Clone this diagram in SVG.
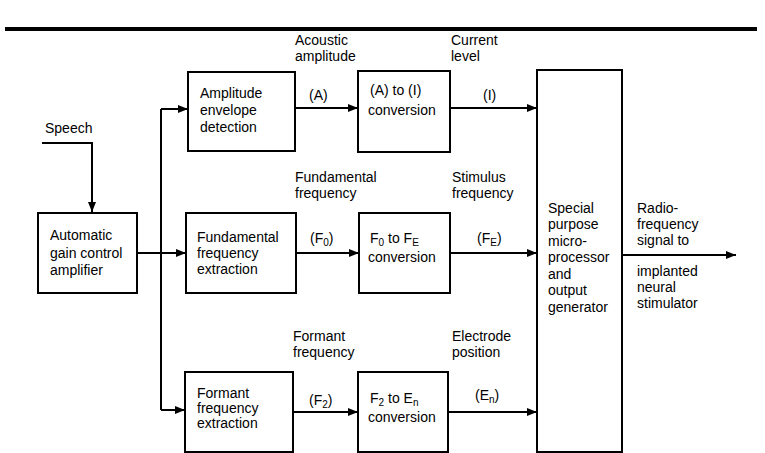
<svg xmlns="http://www.w3.org/2000/svg" width="765" height="453" viewBox="0 0 765 453">
<style>
.box{fill:none;stroke:#000;stroke-width:2}
.c{fill:none;stroke:#000;stroke-width:2}
text{font-family:"Liberation Sans",Arial,sans-serif;font-size:14px;fill:#000}
.sub{font-size:10px}
</style>
<defs>
<marker id="arr" markerWidth="10" markerHeight="8" refX="10" refY="4" orient="auto" markerUnits="userSpaceOnUse"><path d="M0,0 L10,4 L0,8 z" fill="#000"/></marker>
</defs>
<rect width="765" height="453" fill="#fff"/>
<line x1="5" y1="29" x2="757" y2="29" stroke="#000" stroke-width="4"/>

<g id="speech"><text x="45" y="133">Speech</text></g>

<g id="agc">
<rect class="box" x="38" y="213" width="99" height="80"/>
<text x="50" y="240">Automatic</text>
<text x="50" y="258">gain control</text>
<text x="50" y="275">amplifier</text>
</g>

<g id="envelope">
<rect class="box" x="188" y="72" width="107" height="79"/>
<text x="200" y="98">Amplitude</text>
<text x="200" y="115">envelope</text>
<text x="200" y="132">detection</text>
</g>

<g id="fundamental">
<rect class="box" x="186" y="213" width="110" height="80"/>
<text x="197" y="242">Fundamental</text>
<text x="197" y="258">frequency</text>
<text x="197" y="274">extraction</text>
</g>

<g id="formant">
<rect class="box" x="185" y="372" width="108" height="80"/>
<text x="197" y="398">Formant</text>
<text x="197" y="413">frequency</text>
<text x="197" y="428">extraction</text>
</g>

<g id="a-to-i">
<rect class="box" x="358" y="71" width="92" height="81"/>
<text x="370" y="95">(A) to (I)</text>
<text x="368" y="115">conversion</text>
</g>

<g id="f0-to-fe">
<rect class="box" x="359" y="213" width="91" height="80"/>
<text x="370" y="243">F<tspan class="sub" dy="3">0</tspan><tspan dy="-3"> to F</tspan><tspan class="sub" dy="3">E</tspan></text>
<text x="368" y="262">conversion</text>
</g>

<g id="f2-to-en">
<rect class="box" x="358" y="372" width="90" height="80"/>
<text x="370" y="403">F<tspan class="sub" dy="3">2</tspan><tspan dy="-3"> to E</tspan><tspan class="sub" dy="3">n</tspan></text>
<text x="368" y="422">conversion</text>
</g>

<g id="microprocessor">
<rect class="box" x="537" y="70" width="85" height="382"/>
<text x="548" y="213">Special</text>
<text x="548" y="229">purpose</text>
<text x="548" y="246">micro-</text>
<text x="548" y="262">processor</text>
<text x="548" y="279">and</text>
<text x="548" y="295">output</text>
<text x="548" y="312">generator</text>
</g>

<g id="output">
<text x="637" y="213">Radio-</text>
<text x="637" y="229">frequency</text>
<text x="637" y="245">signal to</text>
<text x="637" y="276">implanted</text>
<text x="637" y="292">neural</text>
<text x="637" y="308">stimulator</text>
</g>

<g id="connectors">
<polyline class="c" points="42,143 92,143 92,212" marker-end="url(#arr)"/>
<line class="c" x1="137" y1="253" x2="186" y2="253" marker-end="url(#arr)"/>
<line class="c" x1="161" y1="109" x2="161" y2="410"/>
<line class="c" x1="161" y1="109" x2="188" y2="109" marker-end="url(#arr)"/>
<line class="c" x1="161" y1="410" x2="185" y2="410" marker-end="url(#arr)"/>
<line class="c" x1="295" y1="108" x2="358" y2="108" marker-end="url(#arr)"/>
<line class="c" x1="450" y1="108" x2="537" y2="108" marker-end="url(#arr)"/>
<line class="c" x1="296" y1="253" x2="359" y2="253" marker-end="url(#arr)"/>
<line class="c" x1="450" y1="253" x2="537" y2="253" marker-end="url(#arr)"/>
<line class="c" x1="293" y1="412" x2="358" y2="412" marker-end="url(#arr)"/>
<line class="c" x1="448" y1="412" x2="537" y2="412" marker-end="url(#arr)"/>
<line class="c" x1="622" y1="255" x2="736" y2="255" marker-end="url(#arr)"/>
</g>

<g id="labels">
<text x="295" y="45">Acoustic</text>
<text x="295" y="61">amplitude</text>
<text x="451" y="45">Current</text>
<text x="451" y="61">level</text>
<text x="309" y="100">(A)</text>
<text x="483" y="100">(I)</text>
<text x="295" y="182">Fundamental</text>
<text x="295" y="198">frequency</text>
<text x="310" y="243">(F<tspan class="sub" dy="3">0</tspan><tspan dy="-3">)</tspan></text>
<text x="452" y="182">Stimulus</text>
<text x="452" y="198">frequency</text>
<text x="477" y="243">(F<tspan class="sub" dy="3">E</tspan><tspan dy="-3">)</tspan></text>
<text x="293" y="341">Formant</text>
<text x="293" y="357">frequency</text>
<text x="309" y="405">(F<tspan class="sub" dy="3">2</tspan><tspan dy="-3">)</tspan></text>
<text x="452" y="341">Electrode</text>
<text x="452" y="357">position</text>
<text x="475" y="400">(E<tspan class="sub" dy="3">n</tspan><tspan dy="-3">)</tspan></text>
</g>
</svg>
